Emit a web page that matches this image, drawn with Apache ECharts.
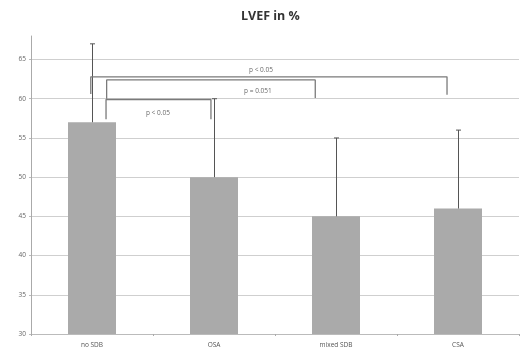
<!DOCTYPE html>
<html><head><meta charset="utf-8">
<script src="https://cdn.jsdelivr.net/npm/echarts@6/dist/echarts.min.js"></script>
<style>html,body{margin:0;padding:0;background:#fff}#c{width:521px;height:349px}</style>
</head><body><div id="c"></div>
<script>
var categories = ['no SDB', 'OSA', 'mixed SDB', 'CSA'];
var lvef = [57, 50, 45, 46];
var upperError = [67, 60, 55, 56];
var yTicks = [30, 35, 40, 45, 50, 55, 60, 65];
// significance brackets: [xLeft, yLeftLeg, yTop, xRight, yRightLeg] in data units
var bracketTop = [-0.01, 60.6, 62.8, 2.91, 60.5];
var bracketMid = [0.12, 60.0, 62.4, 1.83, 60.1];
var bracketLow = [0.115, 57.4, 59.9, 0.975, 57.4];
var pLabels = ['p < 0.05', 'p = 0.051', 'p < 0.05'];
var pLabelPos = [[1.385, 63.7], [1.36, 61.0], [0.54, 58.1]];

function bracketData(b) { return [[b[0], b[1]], [b[0], b[2]], [b[3], b[2]], [b[3], b[4]]]; }
function bracketSeries(b) {
  return { type: 'line', xAxisIndex: 1, data: bracketData(b), symbol: 'none', silent: true,
    lineStyle: { color: '#7a7a7a', width: 1.3 }, z: 5 };
}

var chart = echarts.init(document.getElementById('c'));
chart.setOption({
  animation: false,
  title: { text: 'LVEF in %', left: 236, top: 5,
    textStyle: { fontSize: 12.5, fontWeight: 'bold', color: '#333', fontFamily: 'Open Sans' } },
  grid: { left: 31, right: 2, top: 36, bottom: 13 },
  xAxis: [
    { type: 'category', data: categories,
      axisLine: { lineStyle: { color: '#bbb' } },
      axisTick: { show: true, length: 2, lineStyle: { color: '#aaa' } },
      axisLabel: { fontSize: 6.5, color: '#555', margin: 8, fontFamily: 'Open Sans' } },
    { type: 'value', min: -0.5, max: 3.5, show: false }
  ],
  yAxis: {
    type: 'value', min: yTicks[0], max: 68, interval: 5,
    axisLine: { show: true, onZero: false, lineStyle: { color: '#aaa' } },
    axisTick: { show: true, length: 2, lineStyle: { color: '#bbb' } },
    axisLabel: { fontSize: 6.5, color: '#666', margin: 5, showMaxLabel: false, fontFamily: 'Open Sans',
      formatter: function (v) { return yTicks.indexOf(v) >= 0 ? String(v) : ''; } },
    splitLine: { show: true, showMaxLine: false, lineStyle: { color: '#cfcfcf', width: 1 } }
  },
  series: [
    { type: 'bar', data: lvef, barWidth: 48, itemStyle: { color: '#aaaaaa' }, z: 2 },
    { type: 'custom', z: 3,
      data: categories.map(function (c, i) { return [i, lvef[i], upperError[i]]; }),
      renderItem: function (params, api) {
        var lo = api.coord([api.value(0), api.value(1)]);
        var hi = api.coord([api.value(0), api.value(2)]);
        var x = Math.round(lo[0]) + 0.5;
        return { type: 'group', children: [
          { type: 'line', shape: { x1: x, y1: lo[1], x2: x, y2: hi[1] }, style: { stroke: '#555', lineWidth: 1 } },
          { type: 'line', shape: { x1: x - 2.5, y1: hi[1], x2: x + 2.5, y2: hi[1] }, style: { stroke: '#555', lineWidth: 1 } }
        ] };
      } },
    bracketSeries(bracketTop),
    bracketSeries(bracketMid),
    bracketSeries(bracketLow),
    { type: 'scatter', xAxisIndex: 1, symbolSize: 0, silent: true, z: 6,
      data: pLabelPos.map(function (p, i) { return { value: p, name: pLabels[i] }; }),
      label: { show: true, position: 'inside', formatter: '{b}', fontSize: 6.5, color: '#444', fontFamily: 'Open Sans' } }
  ]
});
</script></body></html>
